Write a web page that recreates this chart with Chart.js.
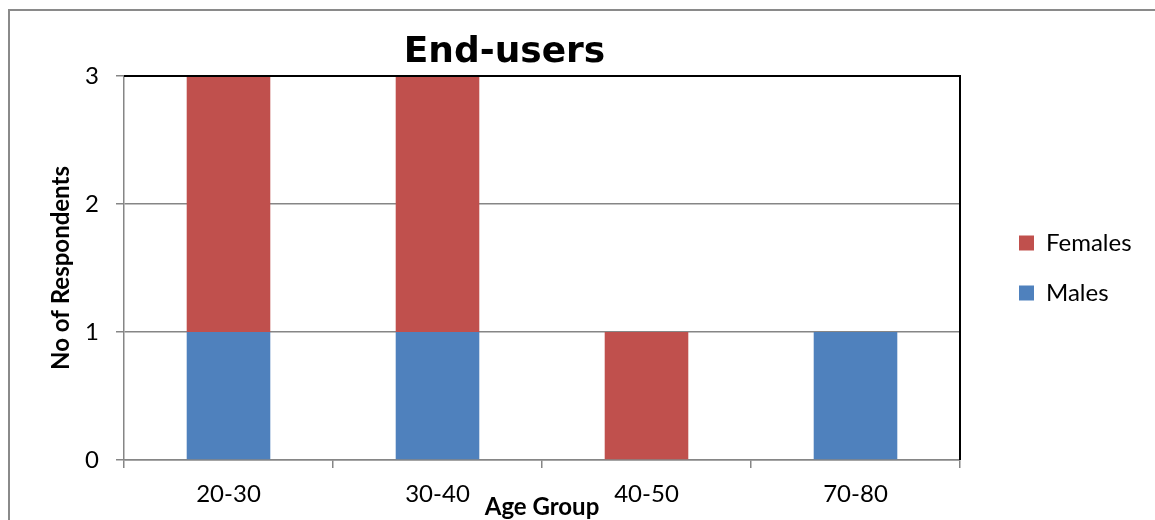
<!DOCTYPE html>
<html>
<head>
<meta charset="utf-8">
<script src="https://cdn.jsdelivr.net/npm/chart.js@4/dist/chart.umd.min.js"></script>
<style>
  html, body { margin: 0; padding: 0; background: #fff; }
  #wrap { width: 1155px; height: 520px; }
</style>
</head>
<body>
<div id="wrap"><canvas id="c" width="1155" height="520"></canvas></div>
<script>
// Respondents per age group, split by gender
const ageGroups = ['20-30', '30-40', '40-50', '70-80'];
const males = [1, 1, 0, 1];
const females = [2, 2, 1, 0];
const yTickValues = [0, 1, 2, 3];

const BLUE = '#4F81BD';
const RED = '#C0504D';
const AXIS_GREY = '#868686';
const FONT = 'Lato';

// Outer frame, black plot border on top/right, and nudges for title/legend placement
const framePlugin = {
  id: 'frame',
  afterInit(chart) {
    const lg = chart.legend;
    const fit = lg.fit.bind(lg);
    lg.fit = function () { fit(); this.width = 195; };
  },
  afterLayout(chart) {
    const tb = chart.titleBlock;
    tb.left -= 73; tb.right -= 73;
    const lg = chart.legend;
    lg.left += 33; lg.right += 33;
    lg.top += 8; lg.bottom += 8;
  },
  beforeDraw(chart) {
    const ctx = chart.ctx;
    ctx.save();
    ctx.fillStyle = '#fff';
    ctx.fillRect(0, 0, chart.width, chart.height);
    ctx.strokeStyle = '#8a8a8a';
    ctx.lineWidth = 2;
    ctx.strokeRect(9, 10, chart.width + 20, chart.height + 20);
    ctx.restore();
  },
  afterDatasetsDraw(chart) {
    const { ctx, chartArea: a } = chart;
    ctx.save();
    ctx.strokeStyle = '#000';
    ctx.lineWidth = 2;
    ctx.beginPath();
    ctx.moveTo(a.left, a.top);
    ctx.lineTo(a.right, a.top);
    ctx.lineTo(a.right, a.bottom);
    ctx.stroke();
    ctx.restore();
  }
};

new Chart(document.getElementById('c'), {
  type: 'bar',
  data: {
    labels: ageGroups,
    datasets: [
      { label: 'Males', data: males, backgroundColor: BLUE, borderWidth: 0,
        barPercentage: 0.4, categoryPercentage: 1.0 },
      { label: 'Females', data: females, backgroundColor: RED, borderWidth: 0,
        barPercentage: 0.4, categoryPercentage: 1.0 }
    ]
  },
  options: {
    responsive: false,
    animation: false,
    devicePixelRatio: 1,
    layout: { padding: 0 },
    plugins: {
      tooltip: { enabled: false },
      title: {
        display: true,
        text: 'End-users',
        color: '#000',
        font: { family: 'DejaVu Sans', size: 36, weight: 'bold' },
        padding: { top: 31, bottom: 1.8 }
      },
      legend: {
        position: 'right',
        reverse: true,
        labels: {
          boxWidth: 15,
          boxHeight: 15,
          padding: 26,
          color: '#000',
          font: { family: FONT, size: 24 }
        }
      }
    },
    scales: {
      x: {
        stacked: true,
        grid: { drawOnChartArea: false, tickLength: 8, color: AXIS_GREY, lineWidth: 1.5 },
        border: { color: AXIS_GREY, width: 1.5 },
        ticks: { color: '#000', font: { family: FONT, size: 24 }, padding: 12 },
        title: {
          display: true, text: 'Age Group', color: '#000',
          font: { family: FONT, size: 24, weight: 'bold' },
          padding: { top: 0, bottom: -2 }
        },
        afterFit(s) { s.height = 60; }
      },
      y: {
        stacked: true,
        min: 0,
        max: 3,
        afterBuildTicks(s) { s.ticks = yTickValues.map(v => ({ value: v })); },
        ticks: { color: '#000', font: { family: FONT, size: 24 }, padding: 17 },
        grid: {
          color: c => (c.tick && c.tick.value === 3) ? '#000' : AXIS_GREY,
          tickColor: AXIS_GREY,
          lineWidth: 1.5,
          tickLength: 8
        },
        border: { color: AXIS_GREY, width: 1.5 },
        title: {
          display: true, text: 'No of Respondents', color: '#000',
          font: { family: FONT, size: 24, weight: 'bold' },
          padding: { top: 47, bottom: 0 }
        },
        afterFit(s) { s.width = 124; }
      }
    }
  },
  plugins: [framePlugin]
});
</script>
</body>
</html>
